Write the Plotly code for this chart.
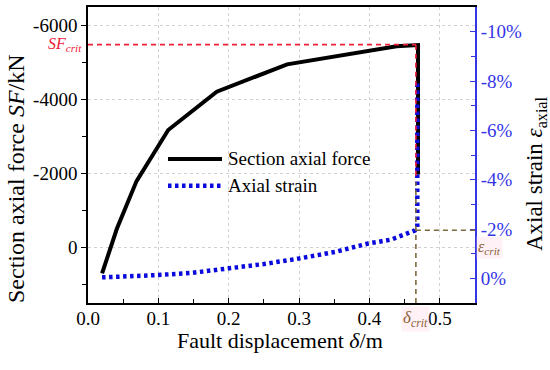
import plotly.graph_objects as go

# ---- data ----
force_disp = [0.02, 0.041, 0.069, 0.114, 0.183, 0.283, 0.4385, 0.4645, 0.469, 0.469]
force_kN = [700, -505, -1795, -3175, -4210, -4950, -5440, -5483, -5470, -1970]

strain_disp = [0.02, 0.043, 0.0975, 0.147, 0.199, 0.25, 0.299, 0.351, 0.398, 0.431, 0.45, 0.4645, 0.468, 0.468]
strain_pct = [-0.04, -0.06, -0.13, -0.22, -0.40, -0.58, -0.80, -1.07, -1.41, -1.57, -1.78, -1.94, -2.05, -7.9]

sf_crit = -5483
delta_crit = 0.466
eps_crit = -1.95

x_tickvals = [0.0, 0.1, 0.2, 0.3, 0.4, 0.5]
x_ticktext = ["0.0", "0.1", "0.2", "0.3", "0.4", "0.5"]
x_minor = [0.05, 0.15, 0.25, 0.35, 0.45, 0.55]
y_tickvals = [-6000, -4000, -2000, 0]
y_ticktext = ["-6000", "-4000", "-2000", "0"]
y_minor = [-5000, -3000, -1000, 1000]
y2_tickvals = [-10, -8, -6, -4, -2, 0]
y2_ticktext = ["-10%", "-8%", "-6%", "-4%", "-2%", "0%"]
y2_minor = [-9, -7, -5, -3, -1]

legend_names = ["Section axial force", "Axial strain"]

FONT = "Liberation Serif"
BLUE = "#0A0ADC"
AXBLUE = "#3535E6"
RED = "#F0203A"
OLIVE = "#7D6A3C"
BROWN = "#8E6436"

fig = go.Figure()
fig.add_trace(go.Scatter(x=force_disp, y=force_kN, mode="lines", name=legend_names[0],
                         line=dict(color="black", width=4), yaxis="y", showlegend=False))
fig.add_trace(go.Scatter(x=strain_disp, y=strain_pct, mode="lines", name=legend_names[1],
                         line=dict(color=BLUE, width=4.5, dash="3.5px,3.5px"), yaxis="y2", showlegend=False))

# critical lines
fig.add_shape(type="line", xref="x", yref="y", x0=0, x1=delta_crit, y0=sf_crit, y1=sf_crit,
              line=dict(color=RED, width=1.6, dash="5px,4px"))
fig.add_shape(type="line", xref="x", yref="y", x0=delta_crit, x1=delta_crit, y0=sf_crit, y1=-1850,
              line=dict(color=RED, width=1.6, dash="5px,4px"))
fig.add_shape(type="line", xref="x", yref="y2", x0=delta_crit, x1=0.55, y0=eps_crit, y1=eps_crit,
              line=dict(color=OLIVE, width=1.6, dash="5px,4px"))
fig.add_shape(type="line", xref="x", yref="y2", x0=delta_crit, x1=delta_crit, y0=1, y1=-3.9,
              line=dict(color=OLIVE, width=1.6, dash="5px,4px"))

# manual legend
fig.add_shape(type="line", xref="paper", yref="paper", x0=0.2067, x1=0.3463, y0=0.4866, y1=0.4866,
              line=dict(color="black", width=4))
fig.add_shape(type="line", xref="paper", yref="paper", x0=0.2067, x1=0.3463, y0=0.396, y1=0.396,
              line=dict(color=BLUE, width=4.5, dash="3.5px,3.5px"))
fig.add_annotation(xref="paper", yref="paper", x=0.3566, y=0.4866, text=legend_names[0], showarrow=False,
                   xanchor="left", yanchor="middle", font=dict(family=FONT, size=19, color="black"))
fig.add_annotation(xref="paper", yref="paper", x=0.3566, y=0.396, text=legend_names[1], showarrow=False,
                   xanchor="left", yanchor="middle", font=dict(family=FONT, size=19, color="black"))

# crit labels
fig.add_annotation(xref="paper", yref="y", x=0, y=sf_crit, xshift=-4, text="<i>SF</i><sub><i>crit</i></sub>",
                   showarrow=False, xanchor="right", yanchor="middle", font=dict(family=FONT, size=16, color=RED))
fig.add_annotation(xref="x", yref="paper", x=delta_crit, y=0, yshift=-3, text="<i>δ</i><sub><i>crit</i></sub>",
                   showarrow=False, xanchor="center", yanchor="top", bgcolor="rgba(255,225,235,0.45)",
                   font=dict(family=FONT, size=17, color=BROWN))
fig.add_annotation(xref="paper", yref="y2", x=1, y=eps_crit, xshift=1, yshift=-6, text="<i>ε</i><sub><i>crit</i></sub>",
                   showarrow=False, xanchor="left", yanchor="top", bgcolor="rgba(255,225,235,0.45)",
                   font=dict(family=FONT, size=16, color=BROWN))

# axis titles
fig.add_annotation(xref="paper", yref="paper", x=-0.186, y=0.419, textangle=-90,
                   text="Section axial force <i>SF</i>/kN", showarrow=False,
                   xanchor="center", yanchor="middle", font=dict(family=FONT, size=24, color="black"))
fig.add_annotation(xref="paper", yref="paper", x=1.158, y=0.436, textangle=-90,
                   text="Axial strain <i>ε</i><sub>axial</sub>", showarrow=False,
                   xanchor="center", yanchor="middle", font=dict(family=FONT, size=23, color="black"))
fig.add_annotation(xref="paper", yref="paper", x=0.496, y=-0.128,
                   text="Fault displacement <i>δ</i>/m", showarrow=False,
                   xanchor="center", yanchor="middle", font=dict(family=FONT, size=22, color="black"))

fig.update_layout(
    width=550, height=370,
    margin=dict(l=88, r=75, t=5, b=67),
    plot_bgcolor="white", paper_bgcolor="white",
    font=dict(family=FONT, size=19, color="black"),
    xaxis=dict(range=[0, 0.55], tickmode="array", tickvals=x_tickvals, ticktext=x_ticktext,
               ticks="inside", ticklen=5, tickwidth=1.2, tickcolor="black", ticklabelstandoff=-3,
               showline=True, linecolor="black", linewidth=1.5, mirror=True,
               showgrid=True, gridcolor="#D2D2D2", griddash="dot", gridwidth=1,
               zeroline=False, tickfont=dict(family=FONT, size=19, color="black"),
               minor=dict(tickmode="array", tickvals=x_minor, ticks="inside", ticklen=4,
                          tickcolor="black", showgrid=False)),
    yaxis=dict(range=[1500, -6500], tickmode="array", tickvals=y_tickvals, ticktext=y_ticktext,
               ticks="outside", ticklen=5, tickwidth=1.2, tickcolor="black",
               showline=True, linecolor="black", linewidth=1.5,
               showgrid=True, gridcolor="#D2D2D2", griddash="dot", gridwidth=1,
               zeroline=False, tickfont=dict(family=FONT, size=19, color="black"),
               minor=dict(tickmode="array", tickvals=y_minor, ticks="outside", ticklen=4,
                          tickcolor="black", showgrid=False)),
    yaxis2=dict(range=[1, -11], overlaying="y", side="right", tickmode="array",
                tickvals=y2_tickvals, ticktext=y2_ticktext,
                ticks="inside", ticklen=5, tickwidth=1.2, tickcolor=AXBLUE,
                showline=True, linecolor=AXBLUE, linewidth=2,
                showgrid=False, zeroline=False,
                tickfont=dict(family=FONT, size=19, color=AXBLUE),
                minor=dict(tickmode="array", tickvals=y2_minor, ticks="inside", ticklen=4,
                           tickcolor=AXBLUE, showgrid=False)),
)

fig.write_html("out.html", config={"displayModeBar": False},
               post_script="document.body.style.margin='0';document.body.style.padding='0';")
